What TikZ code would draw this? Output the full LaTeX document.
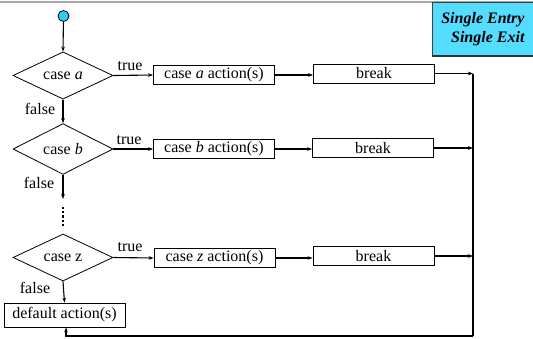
\documentclass[tikz,border=0pt]{standalone}
\usepackage{fontspec}
\setmainfont{Liberation Serif}
\usetikzlibrary{shapes.geometric,arrows.meta}
\definecolor{cyanfill}{HTML}{55DDFF}
\definecolor{dotfill}{HTML}{33CCEE}
\tikzset{
  txt/.style={font=\fontsize{16}{18}\selectfont, inner sep=0pt},
  dec/.style={diamond, draw, line width=0.8pt, minimum width=100pt, minimum height=47pt, inner sep=0pt, font=\fontsize{16}{18}\selectfont},
  act/.style={rectangle, draw, line width=0.8pt, minimum width=121pt, minimum height=19pt, inner sep=0pt, font=\fontsize{16}{18}\selectfont},
  flow/.style={line width=1.1pt, -{Stealth[length=5pt,width=3.6pt]}},
  plain/.style={line width=1.1pt},
}
\begin{document}
\begin{tikzpicture}[x=1pt,y=-1pt]
\useasboundingbox (0,0) rectangle (533,338);
\fill[white] (0,0) rectangle (533,338);
% top rule
\draw[gray!70, line width=2pt] (0,1.5) -- (533,1.5);
% Single entry box
\node[rectangle, fill=cyanfill, draw=black!75, line width=0.8pt, minimum width=101pt, minimum height=53pt, inner sep=0pt, anchor=north west, align=right, font=\fontsize{16}{19}\selectfont\bfseries\itshape] (se) at (432,2) {Single Entry\\Single Exit};
\draw[black!80, line width=1.4pt] (se.south west) -- (se.south east);
% start
\node[circle, fill=dotfill, draw=black, line width=0.8pt, minimum size=11pt, inner sep=0pt] (start) at (63.5,16) {};
% diamonds
\node[dec] (da) at (63,75.5) {case \textit{a}};
\node[dec] (db) at (63,149) {case \textit{b}};
\node[dec] (dz) at (63,257.5) {case z};
% actions
\node[act] (ta) at (214,75) {case \textit{a} action(s)};
\node[act] (tb) at (214,149) {case \textit{b} action(s)};
\node[act] (tz) at (214.5,258) {case \textit{z} action(s)};
\node[act] (ba) at (374,73.5) {break};
\node[act] (bb) at (373,148) {break};
\node[act] (bz) at (373.5,256) {break};
\node[act, minimum height=24pt] (def) at (64.5,315) {default action(s)};
% coordinates
\coordinate (ea) at (473,73.5);
\coordinate (eb) at (473,148);
\coordinate (ez) at (473,256);
\coordinate (corner) at (473,336);
\coordinate (back) at (66,336);
\coordinate (bend) at (63,199);
\coordinate (dtop) at (63,207);
\coordinate (dbot) at (63,226);
% connectors
\draw[flow] (start) -- (da.north);
\draw[flow] (da.east) -- (ta.west);
\draw[flow] (db.east) -- (tb.west);
\draw[flow] (dz.east) -- (tz.west);
\draw[flow] (ta.east) -- (ta.east -| ba.west);
\draw[flow] (tb.east) -- (tb.east -| bb.west);
\draw[flow] (tz.east) -- (tz.east -| bz.west);
\draw[flow] (ba.east) -- (ea);
\draw[flow] (bb.east) -- (eb);
\draw[flow] (bz.east) -- (ez);
\draw[flow] (da.south) -- (db.north);
\draw[flow] (db.south) -- (bend);
\draw[flow] (dz.south) -- (def.north);
\draw[plain] (ea) -- (corner);
\draw[flow] (corner) -- (back) -- (back |- def.south);
\draw[line width=2.8pt, dash pattern=on 2.2pt off 2pt] (dtop) -- (dbot);
% labels
\node[txt] at (130,66) {true};
\node[txt] at (129,140) {true};
\node[txt] at (130,247) {true};
\node[txt] at (40,109) {false};
\node[txt] at (39,183) {false};
\node[txt] at (35,288) {false};
\end{tikzpicture}
\end{document}
